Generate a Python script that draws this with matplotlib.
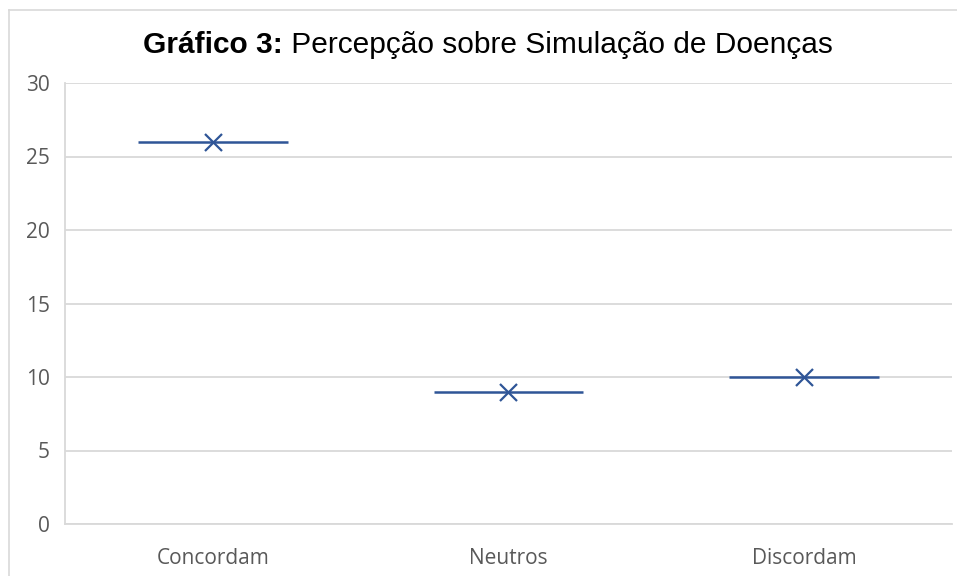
import matplotlib
matplotlib.use("Agg")
import matplotlib.pyplot as plt
from matplotlib.lines import Line2D

categories = ["Concordam", "Neutros", "Discordam"]
values = [26, 9, 10]
yticks = [0, 5, 10, 15, 20, 25, 30]

blue = "#2f5597"
grid = "#d9d9d9"
label_gray = "#595959"

fig = plt.figure(figsize=(9.57, 5.76), dpi=100)
ax = fig.add_axes([65 / 957, 1 - 524 / 576, 887 / 957, 441 / 576])

x = list(range(len(categories)))
for xi, v in zip(x, values):
    ax.hlines(v, xi - 0.253, xi + 0.253, color=blue, linewidth=1.8)
ax.scatter(x, values, marker="x", s=150, color=blue, linewidths=1.6, zorder=3)

ax.set_xlim(-0.5, len(categories) - 0.5)
ax.set_ylim(0, 30)
ax.set_yticks(yticks)
ax.set_xticks(x)
ax.set_xticklabels(categories)
ax.yaxis.grid(True, color=grid, linewidth=1.3)
ax.set_axisbelow(True)
for side in ["top", "right"]:
    ax.spines[side].set_visible(False)
for side in ["left", "bottom"]:
    ax.spines[side].set_color(grid)
    ax.spines[side].set_linewidth(1.3)
ax.tick_params(length=0, labelsize=15, labelcolor=label_gray)
ax.tick_params(axis="x", pad=17)
ax.tick_params(axis="y", pad=11)
for lab in ax.get_xticklabels() + ax.get_yticklabels():
    lab.set_family("Open Sans")

# chart area border (partly visible)
fig.add_artist(Line2D([9 / 957, 9 / 957], [0, 1 - 10 / 576], color=grid, linewidth=1.2))
fig.add_artist(Line2D([9 / 957, 1], [1 - 10 / 576, 1 - 10 / 576], color=grid, linewidth=1.2))

# title: bold part + normal part
ty = 1 - 53 / 576
t1 = fig.text(0, ty, "Gráfico 3:", fontsize=21.5, fontweight="bold",
              family="Liberation Sans", va="baseline")
t2 = fig.text(0, ty, " Percepção sobre Simulação de Doenças", fontsize=21.5,
              family="Liberation Sans", va="baseline")
r = fig.canvas.get_renderer()
w1 = t1.get_window_extent(r).width
w2 = t2.get_window_extent(r).width
start = 488 - (w1 + w2) / 2
t1.set_x(start / 957)
t2.set_x((start + w1) / 957)

fig.savefig("out.png", dpi=100)
